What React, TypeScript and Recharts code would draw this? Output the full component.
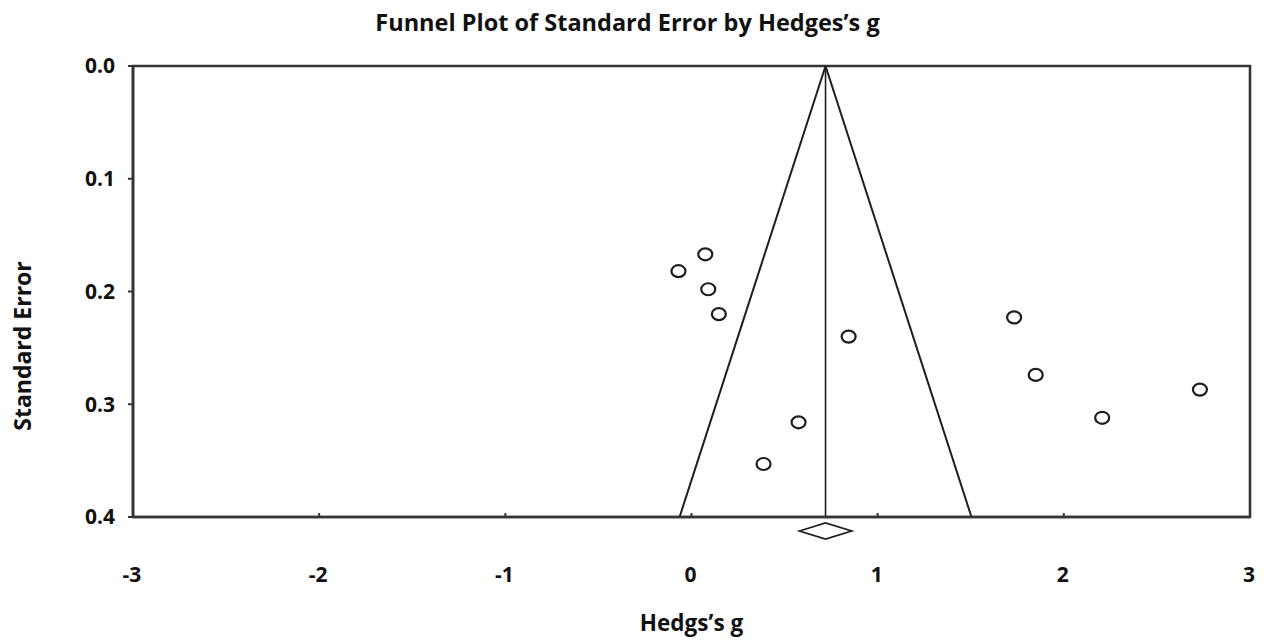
import {
  ScatterChart,
  Scatter,
  XAxis,
  YAxis,
  ReferenceLine,
  ReferenceArea,
  Label,
} from 'recharts';

// study effect sizes (Hedges's g) and their standard errors
const hedgesG = [0.074, -0.07, 0.09, 0.147, 0.844, 0.575, 0.387, 1.733, 1.849, 2.206, 2.731];
const stdErr = [0.167, 0.182, 0.198, 0.22, 0.24, 0.316, 0.353, 0.223, 0.274, 0.312, 0.287];

// pooled estimate and funnel limits at SE = 0.4
const pooledG = 0.72;
const pooledLow = 0.58;
const pooledHigh = 0.86;
const funnelLeft = -0.064;
const funnelRight = 1.504;
const seMax = 0.4;

const xTicks = [-3, -2, -1, 0, 1, 2, 3];
const yTicks = [0, 0.1, 0.2, 0.3, 0.4];

const FONT = "'Open Sans', 'Noto Sans', sans-serif";
const INK = '#1e1e1e';
const AXIS = '#353535';

const points = hedgesG.map((g, i) => ({ x: g, y: stdErr[i] }));

function XTick({ x, y, payload }: any) {
  return (
    <g>
      <line x1={x} x2={x} y1={y} y2={y - 4} stroke={AXIS} strokeWidth={2} />
      <text
        x={x - 1}
        y={y + 65}
        textAnchor="middle"
        fontFamily={FONT}
        fontWeight={700}
        fontSize={21}
        fill="#111"
      >
        {String(payload.value)}
      </text>
    </g>
  );
}

function Marker({ cx, cy }: any) {
  return <ellipse cx={cx} cy={cy} rx={7} ry={6} fill="#fff" stroke={INK} strokeWidth={2.2} />;
}

function Diamond({ x, y, width, height }: any) {
  const cy = y + height + 14;
  const mid = x + width / 2;
  return (
    <polygon
      points={`${x},${cy} ${mid},${cy - 8} ${x + width},${cy} ${mid},${cy + 8}`}
      fill="#fff"
      stroke={INK}
      strokeWidth={1.8}
    />
  );
}

export default function App() {
  return (
    <div style={{ position: 'absolute', left: 0, top: 0, width: 1264, height: 640, background: '#fff' }}>
      <div
        style={{
          position: 'absolute',
          left: 0,
          top: 7,
          width: 1255,
          textAlign: 'center',
          fontFamily: FONT,
          fontWeight: 700,
          fontSize: 23.5,
          color: '#111',
          lineHeight: '30px',
        }}
      >
        Funnel Plot of Standard Error by Hedges’s g
      </div>
      <ScatterChart width={1264} height={640} margin={{ top: 66, right: 14, left: 33, bottom: 0 }}>
        <ReferenceArea
          x1={-3}
          x2={3}
          y1={0}
          y2={seMax}
          fill="none"
          stroke={AXIS}
          strokeWidth={2.6}
          ifOverflow="visible"
        />
        <XAxis
          type="number"
          dataKey="x"
          domain={[-3, 3]}
          ticks={xTicks}
          height={123}
          tickSize={0}
          tickMargin={0}
          tickLine={false}
          axisLine={{ stroke: AXIS, strokeWidth: 2.6 }}
          tick={<XTick />}
          interval={0}
        >
          <Label
            value="Hedgs’s g"
            position="insideBottom"
            offset={9}
            style={{ fontFamily: FONT, fontWeight: 700, fontSize: 22.5, fill: '#111' }}
          />
        </XAxis>
        <YAxis
          type="number"
          dataKey="y"
          domain={[0, seMax]}
          ticks={yTicks}
          reversed
          width={100}
          tickSize={5}
          tickMargin={13}
          interval={0}
          tickFormatter={(v: number) => v.toFixed(1)}
          axisLine={{ stroke: AXIS, strokeWidth: 2.6 }}
          tickLine={{ stroke: AXIS, strokeWidth: 2 }}
          tick={{ fontFamily: FONT, fontWeight: 700, fontSize: 21, fill: '#111' }}
        >
          <Label
            content={() => (
              <text
                x={31}
                y={346}
                transform="rotate(-90, 31, 346)"
                textAnchor="middle"
                fontFamily={FONT}
                fontWeight={700}
                fontSize={23}
                fill="#111"
              >
                Standard Error
              </text>
            )}
          />
        </YAxis>
        <ReferenceLine
          segment={[
            { x: funnelLeft, y: seMax },
            { x: pooledG, y: 0 },
          ]}
          stroke={INK}
          strokeWidth={2}
        />
        <ReferenceLine
          segment={[
            { x: funnelRight, y: seMax },
            { x: pooledG, y: 0 },
          ]}
          stroke={INK}
          strokeWidth={2}
        />
        <ReferenceLine x={pooledG} stroke={INK} strokeWidth={1.6} />
        <ReferenceArea
          x1={pooledLow}
          x2={pooledHigh}
          ifOverflow="visible"
          shape={(p: any) => <Diamond {...p} />}
        />
        <Scatter data={points} shape={(p: any) => <Marker {...p} />} isAnimationActive={false} />
      </ScatterChart>
    </div>
  );
}
